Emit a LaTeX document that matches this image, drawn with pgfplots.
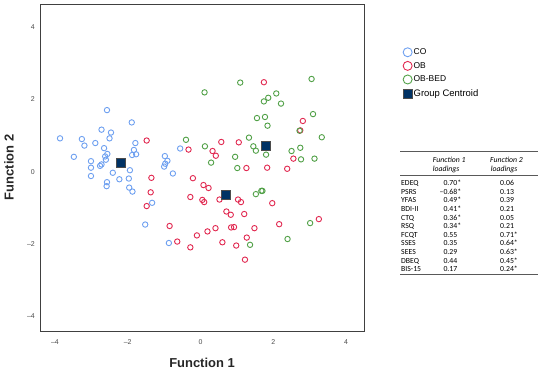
\documentclass[border=0pt]{standalone}
\usepackage{pgfplots}
\pgfplotsset{compat=1.18}
\usepackage{fontspec}
\setmainfont{Liberation Sans}
\newfontfamily\carlito{Carlito}
\definecolor{coBlue}{RGB}{110,160,240}
\definecolor{obRed}{RGB}{225,40,80}
\definecolor{bedGreen}{RGB}{80,160,70}
\definecolor{centroid}{RGB}{0,50,100}
\newcommand{\tabfont}{\carlito\fontsize{7.8}{9}\selectfont}
\begin{document}
\begin{tikzpicture}[x=1bp,y=1bp]
\useasboundingbox (0,0) rectangle (550,373);
\begin{axis}[
  at={(40bp,42bp)}, anchor=south west, scale only axis,
  width=324bp, height=327bp,
  xmin=-4.41, xmax=4.49, ymin=-4.40, ymax=4.63,
  xtick={-4,-2,0,2,4}, xticklabels={–4,–2,0,2,4},
  ytick={-4,-2,0,2,4}, yticklabels={–4,–2,0,2,4},
  major tick length=0pt,
  axis line style={draw=black!75, line width=1bp},
  tick label style={font=\fontsize{7}{8}\selectfont, text=black!70},
  xticklabel style={anchor=center, yshift=-10.7bp},
  yticklabel style={anchor=east, inner sep=0pt, xshift=-5bp},
  xlabel={Function 1}, ylabel={Function 2},
  label style={font=\bfseries\fontsize{13}{15}\selectfont, text=black!85},
  xlabel style={at={(axis description cs:0.5,-0.0979)}, anchor=center},
  ylabel style={at={(axis description cs:-0.0957,0.5)}, anchor=center},
  legend style={at={(axis description cs:1.111,0.875)}, anchor=north west,
    draw=none, fill=none, font=\fontsize{8.5}{9}\selectfont, row sep=3.2bp,
    nodes={inner sep=1.5bp}},
  legend cell align=left,
  legend image code/.code={\draw[#1] plot coordinates {(0bp,0bp)};},
]
\addplot[only marks, mark=o, mark size=2.7bp, color=coBlue, line width=0.9bp,
  legend image post style={mark size=4.5bp}] coordinates {
(-3.86,0.92) (-2.57,1.70) (-1.89,1.36) (-2.72,1.16) (-2.46,1.08) (-2.50,0.92)
(-3.26,0.90) (-3.19,0.72) (-2.89,0.79) (-2.65,0.65) (-2.56,0.49) (-2.60,0.33)
(-2.62,0.42) (-3.48,0.41) (-3.01,0.29) (-3.01,0.11) (-3.01,-0.12) (-2.76,0.16)
(-2.72,0.20) (-2.41,-0.03) (-2.23,-0.21) (-1.97,-0.19) (-1.94,0.04) (-2.57,-0.29)
(-2.58,-0.40) (-1.96,-0.44) (-1.87,-0.55) (-1.79,0.79) (-1.83,0.60) (-1.77,0.48)
(-1.88,0.46) (-0.98,0.43) (-0.91,0.30) (-0.97,0.22) (-1.00,0.14) (-0.76,-0.05)
(-0.56,0.64) (-1.33,-0.86) (-1.52,-1.46) (-0.87,-1.97)
};
\addlegendentry{CO}
\addplot[only marks, mark=o, mark size=2.7bp, color=obRed, line width=0.9bp,
  legend image post style={mark size=4.5bp}] coordinates {
(-1.48,0.86) (-1.35,-0.17) (-1.37,-0.57) (-1.48,-0.95) (-0.85,-1.50) (-0.64,-1.93)
(-0.28,-2.09) (-0.33,0.61) (-0.21,-0.18) (0.08,-0.37) (0.22,-0.45) (-0.28,-0.70)
(0.05,-0.78) (0.10,-0.84) (-0.10,-1.76) (0.19,-1.65) (0.41,-1.56) (0.60,-1.95)
(0.52,-0.77) (0.71,-1.10) (0.83,-1.19) (0.84,-1.54) (0.92,-1.53) (0.98,-2.04)
(1.03,-0.77) (1.11,-0.84) (1.20,-1.17) (1.22,-2.43) (1.27,-1.82) (1.48,-1.56)
(1.74,2.47) (1.97,-0.87) (2.16,-1.45) (0.57,0.82) (0.33,0.57) (0.42,0.44)
(1.05,0.81) (1.26,0.10) (1.83,0.11) (2.38,0.08) (2.55,0.36) (2.74,1.14)
(2.81,1.40) (3.25,-1.31)
};
\addlegendentry{OB}
\addplot[only marks, mark=o, mark size=2.7bp, color=bedGreen, line width=0.9bp,
  legend image post style={mark size=4.5bp}] coordinates {
(0.11,2.19) (1.09,2.46) (3.05,2.56) (1.86,2.04) (1.74,1.94) (2.08,2.16)
(2.21,1.88) (1.55,1.48) (1.77,1.51) (1.84,1.27) (3.09,1.59) (2.72,1.13)
(3.33,0.95) (1.33,0.94) (1.45,0.70) (1.52,0.58) (1.80,0.47) (0.95,0.41)
(1.01,0.10) (-0.40,0.88) (0.12,0.70) (0.29,0.25) (2.50,0.57) (2.74,0.66)
(2.76,0.34) (3.13,0.36) (1.52,-0.62) (1.67,-0.53) (1.70,-0.53) (3.01,-1.42)
(2.39,-1.86) (1.36,-2.02)
};
\addlegendentry{OB-BED}
\addplot[only marks, mark=square*, mark size=4.5bp, draw=black!70, fill=centroid,
  line width=0.6bp, legend image post style={mark size=4.3bp}] coordinates {
(-2.18,0.25) (0.70,-0.64) (1.79,0.72)
};
\addlegendentry{\fontsize{9.5}{10}\selectfont Group Centroid}
\end{axis}
% loadings table
\draw[line width=1.2bp, black!65] (400,221.3) -- (538,221.3);
\draw[line width=0.6bp, black!65] (400,197.3) -- (538,197.3);
\draw[line width=1.2bp, black!65] (400,98.7) -- (538,98.7);
\node[anchor=base west, inner sep=0pt] at (432.7,210.2) {\tabfont\itshape Function 1};
\node[anchor=base west, inner sep=0pt] at (432.7,201.3) {\tabfont\itshape loadings};
\node[anchor=base west, inner sep=0pt] at (490,210.2) {\tabfont\itshape Function 2};
\node[anchor=base west, inner sep=0pt] at (490.7,201.3) {\tabfont\itshape loadings};
\foreach \lab/\a/\b [count=\i from 0] in {EDEQ/0.70*/0.06, PSRS/\llap{–}0.68*/0.13,
  YFAS/0.49*/0.39, BDI-II/0.41*/0.21, CTQ/0.36*/0.05, RSQ/0.34*/0.21,
  FCQT/0.55/0.71*, SSES/0.35/0.64*, SEES/0.29/0.63*, DBEQ/0.44/0.45*, BIS-15/0.17/0.24*}{
  \node[anchor=base west, inner sep=0pt] at (401,{187.5-8.63*\i}) {\tabfont \lab};
  \node[anchor=base west, inner sep=0pt] at (443.3,{187.5-8.63*\i}) {\tabfont \a};
  \node[anchor=base west, inner sep=0pt] at (500,{187.5-8.63*\i}) {\tabfont \b};
}
\end{tikzpicture}
\end{document}
